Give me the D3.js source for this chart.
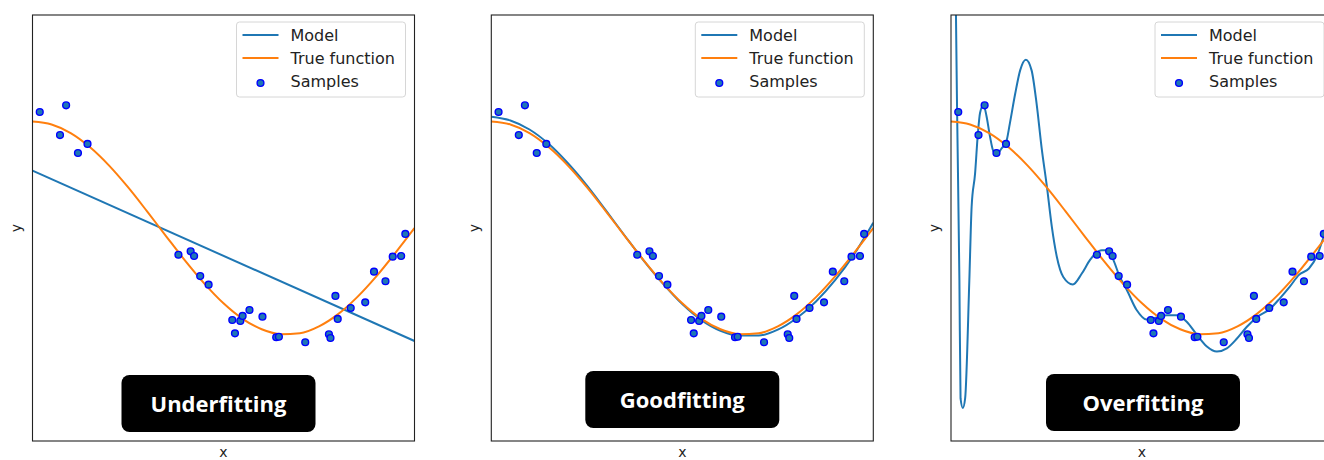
<!DOCTYPE html>
<html>
<head>
<meta charset="utf-8">
<style>
  body { margin: 0; background: white; font-family: "DejaVu Sans", sans-serif; }
  svg { display: block; }
</style>
<script src="https://cdn.jsdelivr.net/npm/d3@7/dist/d3.min.js"></script>
</head>
<body>
<svg id="main"></svg>
<script>
// samples (same in every panel)
const sampleX = [0.019, 0.072, 0.088, 0.119, 0.144, 0.382, 0.414, 0.423, 0.439, 0.461,
                 0.523, 0.530, 0.544, 0.550, 0.568, 0.602, 0.638, 0.645, 0.714, 0.776,
                 0.780, 0.793, 0.799, 0.833, 0.871, 0.894, 0.924, 0.943, 0.965, 0.976]
const sampleY = [1.089, 0.873, 1.152, 0.704, 0.789, -0.251, -0.219, -0.263, -0.451, -0.532,
                 -0.864, -0.989, -0.873, -0.826, -0.770, -0.833, -1.026, -1.021, -1.073, -0.998,
                 -1.033, -0.638, -0.854, -0.751, -0.698, -0.410, -0.500, -0.269, -0.263, -0.056]

// true function
const trueX = [0, 0.05, 0.1, 0.15, 0.2, 0.25, 0.3, 0.35, 0.4, 0.45, 0.5,
               0.55, 0.6, 0.65, 0.7, 0.75, 0.8, 0.85, 0.9, 0.95, 1]
const trueY = [1, 0.972, 0.891, 0.760, 0.588, 0.383, 0.156, -0.078, -0.309, -0.522, -0.707,
               -0.853, -0.951, -0.997, -0.988, -0.924, -0.809, -0.649, -0.454, -0.233, 0]

// model curves, one per panel
const underX = [0, 1]
const underY = [0.538, -1.061]

const goodX = trueX
const goodY = [1.045, 1.01, 0.925, 0.79, 0.61, 0.40, 0.165, -0.075, -0.31, -0.525, -0.715,
               -0.865, -0.965, -1.01, -1.01, -0.955, -0.845, -0.69, -0.49, -0.245, 0.05]

const overX = [0, 0.013, 0.016, 0.022, 0.025, 0.031, 0.037, 0.048, 0.054, 0.063, 0.070,
               0.076, 0.085, 0.093, 0.102, 0.111, 0.120, 0.133, 0.144, 0.154, 0.168,
               0.181, 0.196, 0.211, 0.224, 0.237, 0.251, 0.264, 0.277, 0.294, 0.319,
               0.342, 0.364, 0.377, 0.395, 0.412, 0.425, 0.442, 0.460, 0.486, 0.512,
               0.539, 0.565, 0.591, 0.617, 0.643, 0.669, 0.696, 0.722, 0.748, 0.774,
               0.800, 0.835, 0.861, 0.887, 0.911, 0.937, 0.957, 0.976, 1]
const overY = [10, 2.0, 1.09, -0.49, -1.6, -1.69, -1.6, -0.49, 0.20, 0.51, 0.87,
               1.08, 1.155, 1.05, 0.86, 0.72, 0.695, 0.75, 0.80, 0.98, 1.26,
               1.48, 1.58, 1.48, 1.17, 0.76, 0.39, 0.01, -0.27, -0.46, -0.53,
               -0.43, -0.30, -0.244, -0.21, -0.21, -0.30, -0.46, -0.58, -0.77, -0.86,
               -0.84, -0.82, -0.82, -0.88, -1.00, -1.11, -1.16, -1.13, -1.04, -0.93,
               -0.84, -0.76, -0.66, -0.55, -0.44, -0.38, -0.27, -0.08, 0.12]

const panelTitles = ["Underfitting", "Goodfitting", "Overfitting"]
const legendLabels = ["Model", "True function", "Samples"]

const models = [
  {x: underX, y: underY},
  {x: goodX, y: goodY},
  {x: overX, y: overY}
]

const width = 1324, height = 460
const panelLeft = [32.5, 491.3, 951]
const pw = 382, plotTop = 15, ph = 426
const badgeY = [375, 371, 374]
const badgeShift = [-5, 0, 1]

const svg = d3.select("#main").attr("width", width).attr("height", height)

const zip = (xs, ys) => xs.map((v, i) => [v, ys[i]])

panelLeft.forEach((left, p) => {
  const x = d3.scaleLinear().domain([0, 1]).range([left, left + pw])
  const y = d3.scaleLinear().domain([-2, 2]).range([plotTop + ph, plotTop])

  const line = d3.line().x(d => x(d[0])).y(d => y(d[1])).curve(d3.curveMonotoneX)

  svg.append("clipPath").attr("id", "clip" + p)
    .append("rect").attr("x", left).attr("y", plotTop).attr("width", pw).attr("height", ph)

  const g = svg.append("g").attr("clip-path", `url(#clip${p})`)

  g.append("path")
    .attr("d", line(zip(models[p].x, models[p].y)))
    .attr("fill", "none").attr("stroke", "#1f77b4").attr("stroke-width", 2)

  g.append("path")
    .attr("d", line(zip(trueX, trueY)))
    .attr("fill", "none").attr("stroke", "#ff7f0e").attr("stroke-width", 2)

  g.selectAll("circle")
    .data(zip(sampleX, sampleY))
    .join("circle")
    .attr("cx", d => x(d[0])).attr("cy", d => y(d[1]))
    .attr("r", 3.4)
    .attr("fill", "#1f77b4").attr("stroke", "#0000ff").attr("stroke-width", 1.4)

  // frame
  svg.append("rect")
    .attr("x", left).attr("y", plotTop).attr("width", pw).attr("height", ph)
    .attr("fill", "none").attr("stroke", "#222").attr("stroke-width", 1.1)

  // axis labels
  svg.append("text")
    .attr("x", left + pw / 2).attr("y", 457)
    .attr("text-anchor", "middle").attr("font-size", 14).attr("fill", "#222")
    .text("x")
  svg.append("text")
    .attr("transform", `translate(${left - 12},${plotTop + ph / 2}) rotate(-90)`)
    .attr("text-anchor", "middle").attr("font-size", 14).attr("fill", "#222")
    .text("y")

  // legend
  const lg = svg.append("g").attr("transform", `translate(${left + pw - 178},22)`)
  lg.append("rect")
    .attr("width", 169).attr("height", 75).attr("rx", 3)
    .attr("fill", "white").attr("fill-opacity", 0.8)
    .attr("stroke", "#d6d6d6")
  const legendColors = ["#1f77b4", "#ff7f0e"]
  legendLabels.forEach((lab, i) => {
    const yy = 13 + i * 23
    if (i < 2) {
      lg.append("line").attr("x1", 6).attr("x2", 42).attr("y1", yy).attr("y2", yy)
        .attr("stroke", legendColors[i]).attr("stroke-width", 2)
    } else {
      lg.append("circle").attr("cx", 24).attr("cy", yy + 2).attr("r", 3.4)
        .attr("fill", "#1f77b4").attr("stroke", "#0000ff").attr("stroke-width", 1.4)
    }
    lg.append("text").attr("x", 54).attr("y", yy).attr("dy", "0.36em")
      .attr("font-size", 16).attr("fill", "#222").text(lab)
  })

  // badge
  const cx = left + pw / 2 + badgeShift[p]
  svg.append("rect")
    .attr("x", cx - 97).attr("y", badgeY[p]).attr("width", 194).attr("height", 57)
    .attr("rx", 8).attr("fill", "black")
  svg.append("text")
    .attr("x", cx).attr("y", badgeY[p] + 29).attr("dy", "0.35em")
    .attr("text-anchor", "middle")
    .attr("font-family", "'Open Sans', sans-serif").attr("font-weight", 700)
    .attr("font-size", 22).attr("fill", "white")
    .text(panelTitles[p])
})
</script>
</body>
</html>
